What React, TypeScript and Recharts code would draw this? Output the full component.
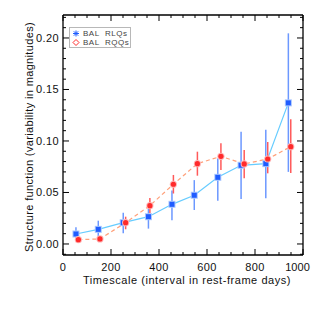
import { ComposedChart, Line, XAxis, YAxis, ErrorBar, Legend } from "recharts";

// BAL RLQs (blue)
const rlqDays = [54, 147, 251, 356, 454, 547, 645, 742, 845, 939];
const rlqSF = [0.0097, 0.0142, 0.0207, 0.0265, 0.0385, 0.0473, 0.0647, 0.0764, 0.078, 0.137];
const rlqLow = [0.0032, 0.0032, 0.0104, 0.0149, 0.023, 0.033, 0.042, 0.0437, 0.0443, 0.07];
const rlqHigh = [0.0162, 0.0226, 0.0304, 0.0362, 0.052, 0.062, 0.083, 0.109, 0.111, 0.2045];

// BAL RQQs (red)
const rqqDays = [64, 154, 261, 362, 460, 560, 658, 755, 853, 949];
const rqqSF = [0.0042, 0.0049, 0.0207, 0.0372, 0.058, 0.078, 0.0851, 0.0777, 0.0825, 0.0945];
const rqqLow = [0.0025, 0.003, 0.0143, 0.0298, 0.049, 0.0663, 0.0718, 0.0638, 0.0686, 0.069];
const rqqHigh = [0.006, 0.0068, 0.0265, 0.0447, 0.067, 0.0896, 0.0977, 0.0913, 0.099, 0.121];

const xTicks = [0, 50, 100, 150, 200, 250, 300, 350, 400, 450, 500, 550, 600, 650, 700, 750, 800, 850, 900, 950, 1000];
const yTicks = [-0.01, 0, 0.01, 0.02, 0.03, 0.04, 0.05, 0.06, 0.07, 0.08, 0.09, 0.1, 0.11, 0.12, 0.13, 0.14, 0.15, 0.16, 0.17, 0.18, 0.19, 0.2, 0.21, 0.22];

const FONT = "'Liberation Sans', Arial, sans-serif";
const BLUE = "#1f5cff";
const RED = "#ff2a2a";

const rlqData = rlqDays.map((x, i) => ({ x, y: rlqSF[i], err: [rlqSF[i] - rlqLow[i], rlqHigh[i] - rlqSF[i]] }));
const rqqData = rqqDays.map((x, i) => ({ x, y: rqqSF[i], err: [rqqSF[i] - rqqLow[i], rqqHigh[i] - rqqSF[i]] }));

const isMajorX = (v: number) => v % 200 === 0;
const isMajorY = (v: number) => Math.abs(v * 20 - Math.round(v * 20)) < 1e-6;

const BottomTick = ({ x, y, payload }: any) => {
  const major = isMajorX(payload.value);
  // keep the last label inside the visible page
  const last = payload.value === 1000;
  return (
    <g>
      <line x1={x} x2={x} y1={y} y2={y - (major ? 6 : 3)} stroke="#000" />
      {major && (
        <text
          x={last ? x + 7 : x}
          y={y + 16}
          textAnchor={last ? "end" : "middle"}
          fontSize={11}
          letterSpacing={last ? 0.1 : 0.4}
          fontFamily={FONT}
          fill="#111"
        >
          {payload.value}
        </text>
      )}
    </g>
  );
};

const TopTick = ({ x, y, payload }: any) => (
  <line x1={x} x2={x} y1={y} y2={y + (isMajorX(payload.value) ? 6 : 3)} stroke="#000" />
);

const LeftTick = ({ x, y, payload }: any) => {
  const major = isMajorY(payload.value);
  return (
    <g>
      <line x1={x} x2={x + (major ? 6 : 3)} y1={y} y2={y} stroke="#000" />
      {major && (
        <text x={x - 4} y={y + 4} textAnchor="end" fontSize={11} letterSpacing={0.4} fontFamily={FONT} fill="#111">
          {payload.value.toFixed(2)}
        </text>
      )}
    </g>
  );
};

const RightTick = ({ x, y, payload }: any) => (
  <line x1={x} x2={x - (isMajorY(payload.value) ? 6 : 3)} y1={y} y2={y} stroke="#000" />
);

const BlueDot = ({ cx, cy }: any) => (
  <g>
    <rect x={cx - 3.5} y={cy - 3.5} width={7} height={7} fill="#a8c6ff" />
    <rect x={cx - 2.5} y={cy - 2.5} width={5} height={5} fill={BLUE} />
  </g>
);

const RedDot = ({ cx, cy }: any) => (
  <g>
    <circle cx={cx} cy={cy} r={3.6} fill="#ffb4b4" />
    <circle cx={cx} cy={cy} r={2.6} fill={RED} />
  </g>
);

const LegendBox = () => (
  <div
    style={{
      border: "1px solid #b8b8b8",
      width: 62,
      height: 21,
      fontFamily: FONT,
      fontSize: 8,
      letterSpacing: 0.5,
      color: "#444",
      lineHeight: "9px",
      padding: "1px 0 0 2px",
      boxSizing: "border-box",
      background: "#fff",
      whiteSpace: "nowrap",
    }}
  >
    <div style={{ display: "flex", alignItems: "center" }}>
      <svg width={8} height={9}>
        <g stroke={BLUE} strokeWidth={1}>
          <line x1={4} y1={1.5} x2={4} y2={7.5} />
          <line x1={1} y1={4.5} x2={7} y2={4.5} />
          <line x1={1.8} y1={2.3} x2={6.2} y2={6.7} />
          <line x1={6.2} y1={2.3} x2={1.8} y2={6.7} />
        </g>
      </svg>
      <span style={{ marginLeft: 3 }}>BAL&nbsp;&nbsp;RLQs</span>
    </div>
    <div style={{ display: "flex", alignItems: "center" }}>
      <svg width={8} height={9}>
        <polygon points="4,1.5 7,4.5 4,7.5 1,4.5" fill="none" stroke={RED} strokeWidth={1} />
      </svg>
      <span style={{ marginLeft: 3 }}>BAL&nbsp;&nbsp;RQQs</span>
    </div>
  </div>
);

export default function App() {
  return (
    <div style={{ margin: -8, width: 319, height: 319 }}>
      <ComposedChart width={319} height={308} margin={{ top: 13, right: 14, bottom: 0, left: 8 }}>
        <XAxis
          xAxisId="b"
          type="number"
          dataKey="x"
          domain={[0, 1000]}
          ticks={xTicks}
          interval={0}
          tick={<BottomTick />}
          tickSize={0}
          tickMargin={0}
          tickLine={false}
          axisLine={{ stroke: "#000", strokeWidth: 1.3 }}
          height={53}
          allowDataOverflow
          label={{
            content: () => (
              <text x={187} y={284} textAnchor="middle" fontSize={11} letterSpacing={0.55} fontFamily={FONT} fill="#111">
                Timescale (interval in rest-frame days)
              </text>
            ),
          }}
        />
        <XAxis
          xAxisId="t"
          orientation="top"
          type="number"
          dataKey="x"
          domain={[0, 1000]}
          ticks={xTicks}
          interval={0}
          tick={<TopTick />}
          tickSize={0}
          tickMargin={0}
          tickLine={false}
          axisLine={{ stroke: "#000", strokeWidth: 1.3 }}
          height={2}
          allowDataOverflow
        />
        <YAxis
          yAxisId="l"
          type="number"
          domain={[-0.0107, 0.2223]}
          ticks={yTicks}
          interval={0}
          tick={<LeftTick />}
          tickSize={0}
          tickMargin={0}
          tickLine={false}
          axisLine={{ stroke: "#000", strokeWidth: 1.3 }}
          width={55}
          allowDataOverflow
          label={{
            content: () => (
              <text
                x={29}
                y={137}
                transform="rotate(-90 29 137)"
                textAnchor="middle"
                dominantBaseline="central"
                fontSize={11}
                letterSpacing={0.35}
                fontFamily={FONT}
                fill="#111"
              >
                Structure function (variability in magnitudes)
              </text>
            ),
          }}
        />
        <YAxis
          yAxisId="r"
          orientation="right"
          type="number"
          domain={[-0.0107, 0.2223]}
          ticks={yTicks}
          interval={0}
          tick={<RightTick />}
          tickSize={0}
          tickMargin={0}
          tickLine={false}
          axisLine={{ stroke: "#000", strokeWidth: 1.3 }}
          width={2}
          allowDataOverflow
        />
        <Legend
          layout="vertical"
          align="center"
          verticalAlign="middle"
          content={<LegendBox />}
          wrapperStyle={{ left: 69, top: 27, width: 62, height: 21 }}
        />
        <Line
          data={rlqData}
          xAxisId="b"
          yAxisId="l"
          dataKey="y"
          stroke="#66ccff"
          strokeWidth={1.2}
          dot={<BlueDot />}
          activeDot={false}
          isAnimationActive={false}
          legendType="none"
        >
          <ErrorBar dataKey="err" direction="y" width={0} stroke="#6c98ff" strokeWidth={1.5} />
        </Line>
        <Line
          data={rqqData}
          xAxisId="b"
          yAxisId="l"
          dataKey="y"
          stroke="#ffa07a"
          strokeWidth={1.2}
          strokeDasharray="4 3"
          dot={<RedDot />}
          activeDot={false}
          isAnimationActive={false}
          legendType="none"
        >
          <ErrorBar dataKey="err" direction="y" width={0} stroke="#ff5a5a" strokeWidth={1.5} />
        </Line>
      </ComposedChart>
    </div>
  );
}
